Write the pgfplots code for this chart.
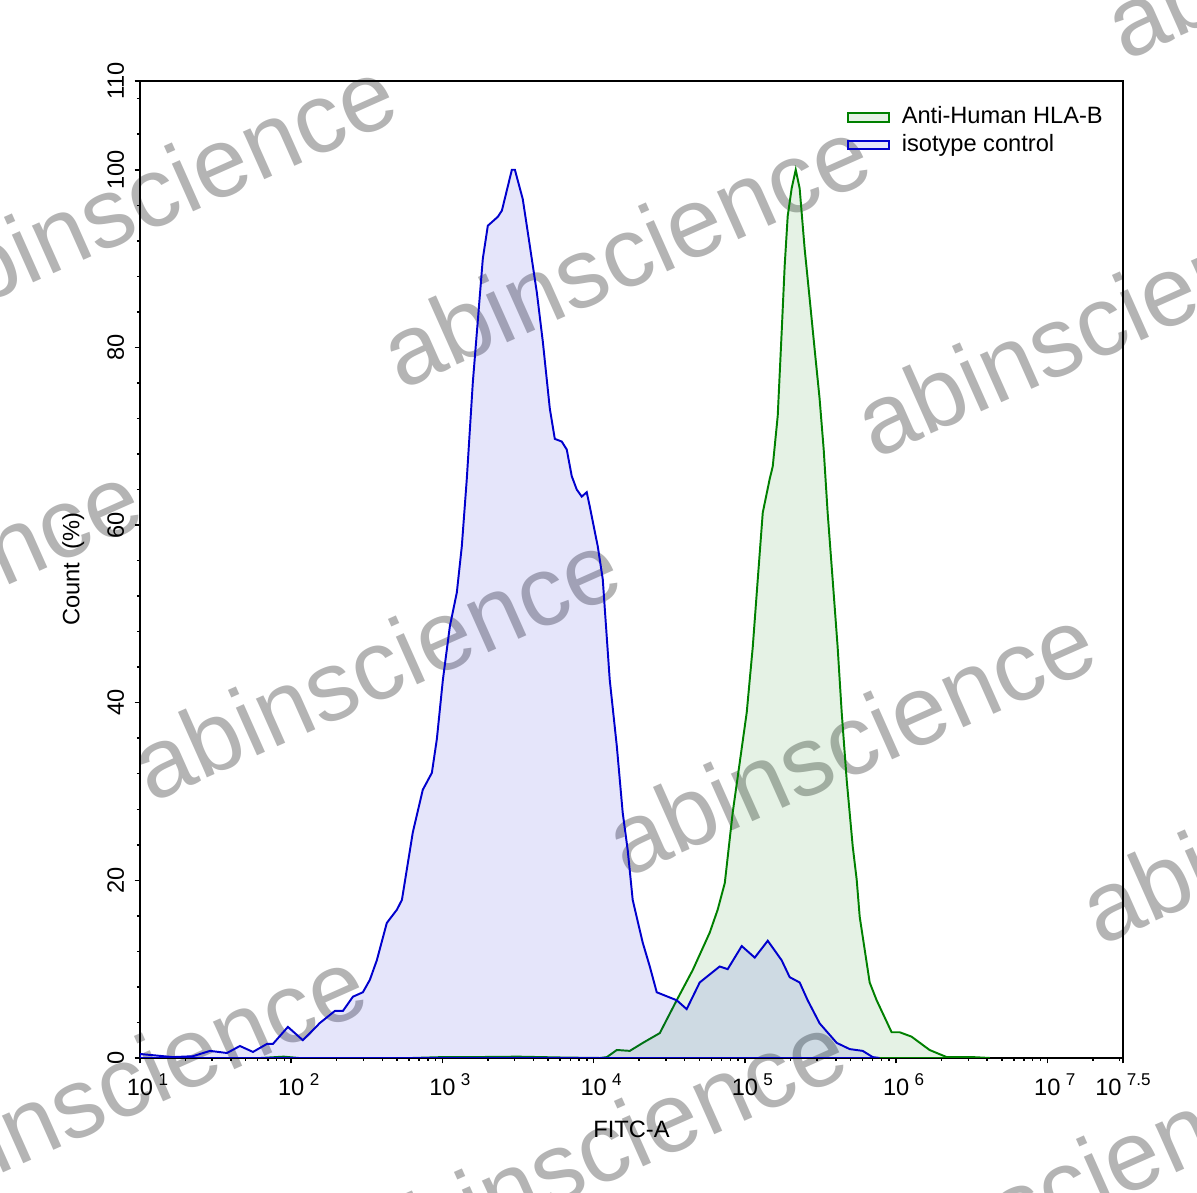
\documentclass[border=0pt]{standalone}
\usepackage{pgfplots}
\pgfplotsset{compat=1.18}
\usepackage{fontspec}
\setmainfont{Liberation Sans}
\definecolor{bl}{RGB}{0,0,205}
\definecolor{gr}{RGB}{0,128,0}
\definecolor{wm}{RGB}{180,180,180}
\newcommand{\lf}{\fontsize{7.9}{9.5}\selectfont}
\newcommand{\ep}[1]{\hspace{1.8pt}\raisebox{3.2pt}{\fontsize{5.7}{6}\selectfont #1}}
\begin{document}
\begin{tikzpicture}
\useasboundingbox (0,0) rectangle (400pt,398.66pt);
\foreach \x/\y in {208.86/314.45, 367.25/291.40, 125.31/176.44, 284.04/151.38, 50.46/334.50, 450.79/424.39, -34.75/199.16, 442.44/128.66, 40.43/37.09, 200.83/15.37, 355.22/2.67}{
  \node[rotate=24, text=wm, inner sep=0pt, font=\fontsize{33}{40}\selectfont] at (\x pt,\y pt) {abinscience};
}
\begin{axis}[
  at={(46.78pt,45.11pt)}, anchor=south west,
  scale only axis, width=328.5pt, height=326.5pt,
  xmin=1, xmax=7.5, ymin=0, ymax=110,
  xtick={1,2,3,4,5,6,7,7.5},
  xticklabels={10\rlap{\ep{1}},10\rlap{\ep{2}},10\rlap{\ep{3}},10\rlap{\ep{4}},10\rlap{\ep{5}},10\rlap{\ep{6}},10\rlap{\ep{7}},10\ep{7.5}},
  minor xtick={1.30103,1.47712,1.60206,1.69897,1.77815,1.84510,1.90309,1.95424,
               2.30103,2.47712,2.60206,2.69897,2.77815,2.84510,2.90309,2.95424,
               3.30103,3.47712,3.60206,3.69897,3.77815,3.84510,3.90309,3.95424,
               4.30103,4.47712,4.60206,4.69897,4.77815,4.84510,4.90309,4.95424,
               5.30103,5.47712,5.60206,5.69897,5.77815,5.84510,5.90309,5.95424,
               6.30103,6.47712,6.60206,6.69897,6.77815,6.84510,6.90309,6.95424,
               7.30103,7.47712},
  ytick={0,20,40,60,80,100,110},
  minor ytick={4,8,...,108},
  tick align=outside, tick pos=left,
  major tick length=1.8pt, minor tick length=1pt,
  axis line style={line width=0.5pt},
  every tick/.style={black, line width=0.5pt},
  tick label style={font=\lf},
  label style={font=\lf},
  /pgf/number format/assume math mode=true,
  yticklabel style={rotate=90, anchor=south},
  xlabel={FITC-A}, ylabel={Count\ \ (\%)},
  xlabel style={at={(axis description cs:0.5,0)}, anchor=north, inner sep=0pt, yshift=-20.7pt},
  ylabel style={at={(axis description cs:-0.056,0.5)}, anchor=south, inner sep=0pt},
  legend style={draw=none, fill=none, at={(0.7182,0.9775)}, anchor=north west, inner sep=0pt,
    font=\lf, row sep=0pt, column sep=3pt, nodes={inner sep=0.8pt, text height=6pt, text depth=1.7pt}},
  legend cell align=left,
  legend image code/.code={\draw[#1] (0pt,-1.4pt) rectangle (14pt,1.4pt);},
]
\addplot[gr, line width=0.65pt, fill=gr, fill opacity=0.1] table {
1.00 0
1.80 0
1.95 0.15
2.05 0
2.80 0
3.00 0.1
3.20 0.1
3.50 0.15
3.80 0.05
4.040 0
4.087 0.1
4.153 0.9
4.239 0.8
4.325 1.7
4.437 2.8
4.549 6.5
4.655 9.9
4.767 14.1
4.820 16.7
4.867 19.7
4.919 27.6
4.966 33.3
5.012 38.9
5.052 46.3
5.085 53.9
5.118 61.4
5.164 65.2
5.184 66.6
5.217 72.3
5.243 81.7
5.263 89.2
5.283 94.8
5.309 97.9
5.336 100
5.362 97.9
5.395 91.1
5.428 85.5
5.461 79.8
5.494 74.2
5.521 68.5
5.547 61.4
5.580 53.9
5.613 46.3
5.640 38.9
5.673 31.3
5.713 23.8
5.739 20.1
5.759 15.9
5.825 8.5
5.871 6.5
5.970 2.9
6.023 2.9
6.102 2.4
6.221 0.9
6.334 0.1
6.506 0.1
6.620 0
} \closedcycle;
\addlegendentry{Anti-Human HLA-B}
\addplot[bl, line width=0.65pt, fill=bl, fill opacity=0.1] table {
1.000 0.45
1.218 0.1
1.350 0.2
1.463 0.8
1.575 0.56
1.661 1.35
1.747 0.68
1.839 1.58
1.879 1.58
1.978 3.5
2.077 2.0
2.190 3.95
2.289 5.3
2.342 5.3
2.408 6.9
2.474 7.4
2.520 8.8
2.566 11.0
2.632 15.2
2.699 16.7
2.732 17.8
2.804 25.4
2.870 30.2
2.930 32.1
2.963 35.9
3.003 42.6
3.049 48.6
3.095 52.4
3.128 57.6
3.161 65.2
3.201 76.1
3.267 90.0
3.300 93.7
3.333 94.2
3.366 94.7
3.393 95.4
3.459 100
3.479 100
3.531 96.7
3.564 93.0
3.624 86.2
3.664 80.6
3.710 73.1
3.743 69.7
3.789 69.4
3.822 68.5
3.855 65.5
3.888 64.0
3.921 63.2
3.954 63.7
3.974 62.1
4.027 57.6
4.060 53.9
4.106 42.6
4.153 35.1
4.192 27.6
4.225 23.4
4.258 17.8
4.284 15.9
4.324 13.0
4.371 10.3
4.417 7.4
4.549 6.5
4.615 5.5
4.701 8.5
4.833 10.3
4.886 10.0
4.979 12.6
5.065 11.3
5.151 13.2
5.243 11.0
5.296 9.1
5.362 8.5
5.415 6.5
5.494 3.9
5.607 1.7
5.693 1.0
5.779 0.8
5.845 0.1
5.890 0
} \closedcycle;
\addlegendentry{isotype control}
\end{axis}
\end{tikzpicture}
\end{document}
